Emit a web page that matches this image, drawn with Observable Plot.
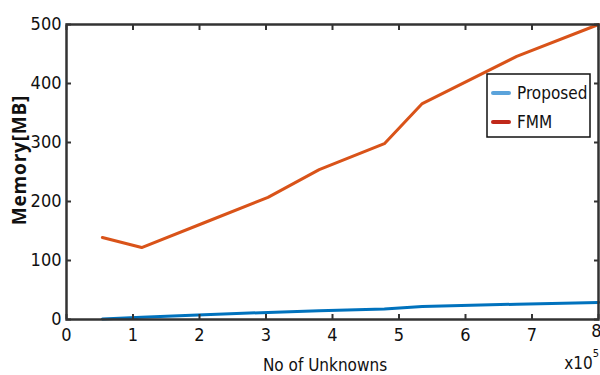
<!DOCTYPE html>
<html><head><meta charset="utf-8">
<script src="https://cdn.jsdelivr.net/npm/d3@7"></script>
<script src="https://cdn.jsdelivr.net/npm/@observablehq/plot@0.6"></script>
<style>
body{margin:0;background:#fff;}
#c{position:relative;width:600px;height:375px;}
</style>
</head><body><div id="c"></div>
<script>
const unknowns = [0.54, 1.13, 2.07, 3.03, 3.8, 4.78, 5.35, 6.77, 8];
const proposed = [1, 4, 8, 12, 15, 18, 22, 26, 29];
const fmm = [139, 122, 164, 207, 254, 298, 366, 446, 500];
const xTicks = [0, 1, 2, 3, 4, 5, 6, 7, 8];
const yTicks = [0, 100, 200, 300, 400, 500];
const seriesNames = ["Proposed", "FMM"];
const lineColors = ["#0072BD", "#D95319"];
const legendColors = ["#5BA3DB", "#C0281A"];

const rows = [];
unknowns.forEach((u, i) => {
  rows.push({x: u, y: proposed[i], s: seriesNames[0]});
  rows.push({x: u, y: fmm[i], s: seriesNames[1]});
});

const font = "'DejaVu Sans Condensed', 'Liberation Sans Narrow', 'Open Sans', sans-serif";
const inner = xTicks.slice(0, -1);
const last = xTicks.slice(-1);
const chart = Plot.plot({
  width: 600, height: 375,
  marginLeft: 66, marginRight: 2, marginTop: 24, marginBottom: 56,
  style: {fontFamily: font, fontSize: "16px", color: "#111", background: "#fff", fontStretch: "condensed"},
  x: {domain: [0, 8]},
  y: {domain: [0, 500]},
  color: {domain: seriesNames, range: lineColors},
  marks: [
    Plot.line(rows, {x: "x", y: "y", z: "s", stroke: "s", strokeWidth: 3}),
    Plot.axisX(xTicks, {anchor: "bottom", tickSize: -5, stroke: "#333", strokeWidth: 2, label: null, tickFormat: () => ""}),
    Plot.text(inner, {x: d => d, frameAnchor: "bottom", dy: 9, text: d => String(d), fontSize: 18, fill: "#111", lineAnchor: "top"}),
    Plot.text(last, {x: d => d, frameAnchor: "bottom", dy: 5, dx: 3, text: d => String(d), fontSize: 18, fill: "#111", lineAnchor: "top", textAnchor: "end"}),
    Plot.axisX(xTicks, {anchor: "top", tickSize: -5, stroke: "#333", strokeWidth: 2, label: null, tickFormat: () => ""}),
    Plot.axisY(yTicks, {anchor: "left", tickSize: -5, tickPadding: 10, stroke: "#333", strokeWidth: 2, label: null, fontSize: 18}),
    Plot.axisY(yTicks, {anchor: "right", tickSize: -5, stroke: "#333", strokeWidth: 2, label: null, tickFormat: () => ""}),
    Plot.frame({stroke: "#333", strokeWidth: 2.5})
  ]
});
const c = document.getElementById("c");
c.appendChild(chart);

const svg = d3.select(chart);
svg.append("text").attr("x", 325).attr("y", 371).attr("text-anchor", "middle")
  .style("font-family", font).style("font-stretch", "condensed").style("font-size", "17px").attr("fill", "#111").text("No of Unknowns");
svg.append("text").attr("transform", "translate(26,160) rotate(-90)").attr("text-anchor", "middle")
  .style("font-family", "'Open Sans', sans-serif").style("font-stretch", "normal").style("font-weight", "bold")
  .style("font-size", "19px").style("letter-spacing", "0.8px").attr("fill", "#111").text("Memory[MB]");
const sup = svg.append("text").attr("x", 599).attr("y", 369).attr("text-anchor", "end")
  .style("font-family", font).style("font-stretch", "condensed").style("font-size", "17px").attr("fill", "#111");
sup.append("tspan").text("x10");
sup.append("tspan").attr("dy", -12).style("font-size", "11px").text("5");

const lg = svg.append("g").attr("transform", "translate(487,74)");
lg.append("rect").attr("width", 103).attr("height", 63).attr("fill", "#fff").attr("stroke", "#111").attr("stroke-width", 1.5);
seriesNames.forEach((n, i) => {
  const yy = 19 + i * 29;
  lg.append("line").attr("x1", 6).attr("x2", 22).attr("y1", yy).attr("y2", yy)
    .attr("stroke", legendColors[i]).attr("stroke-width", 4).attr("stroke-linecap", "round");
  lg.append("text").attr("x", 30).attr("y", yy + 6).attr("text-anchor", "start")
    .style("font-family", font).style("font-stretch", "condensed").style("font-size", "17px").attr("fill", "#111").text(n);
});
</script>
</body></html>
